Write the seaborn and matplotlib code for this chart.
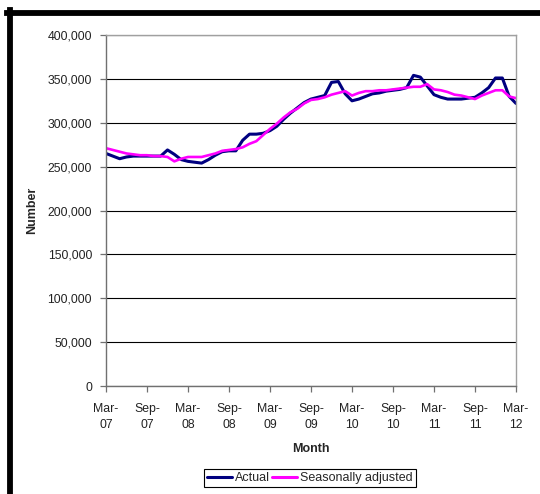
import numpy as np
import pandas as pd
import matplotlib
matplotlib.use("Agg")
import matplotlib.pyplot as plt
from matplotlib.lines import Line2D
from matplotlib.ticker import FuncFormatter
import seaborn as sns

# Monthly series, Mar-07 .. Mar-12 (thousands)
actual = [265, 262, 259, 261, 262, 262, 262, 262, 262, 269,
          264, 258, 256, 255, 254, 258, 263, 267, 268, 268,
          280, 287, 287, 288, 291, 296, 304, 311, 317, 323,
          327, 329, 331, 346, 347, 333, 325, 327, 330, 333,
          334, 336, 337, 338, 340, 354, 352, 342, 332, 329,
          327, 327, 327, 328, 329, 334, 340, 351, 351, 330,
          322]
seasonally_adjusted = [271, 269, 267, 265, 264, 263, 263, 262, 262, 261,
                       256, 259, 261, 261, 261, 263, 265, 268, 269, 270,
                       272, 276, 279, 286, 293, 299, 306, 312, 316, 322,
                       326, 327, 329, 332, 334, 336, 331, 334, 336, 336,
                       337, 337, 338, 339, 340, 341, 341, 344, 338, 337,
                       335, 332, 331, 329, 327, 331, 334, 337, 337, 330,
                       328]
series_names = ["Actual", "Seasonally adjusted"]
series_colors = ["#000080", "#FF00FF"]
tick_labels = ["Mar-\n07", "Sep-\n07", "Mar-\n08", "Sep-\n08", "Mar-\n09", "Sep-\n09",
               "Mar-\n10", "Sep-\n10", "Mar-\n11", "Sep-\n11", "Mar-\n12"]
y_ticks = [0, 50000, 100000, 150000, 200000, 250000, 300000, 350000, 400000]

months = np.arange(len(actual))
df = pd.concat([
    pd.DataFrame({"month": months, "value": np.array(actual) * 1000, "series": series_names[0]}),
    pd.DataFrame({"month": months, "value": np.array(seasonally_adjusted) * 1000, "series": series_names[1]}),
])

sns.set_style("white")
plt.rcParams["font.family"] = ["Liberation Sans", "DejaVu Sans"]

fig = plt.figure(figsize=(5.4, 4.94), dpi=100)
ax = fig.add_axes([106 / 540, 1 - 386 / 494, 410 / 540, 351 / 494])

sns.lineplot(data=df, x="month", y="value", hue="series", palette=series_colors,
             hue_order=series_names, ax=ax, legend=False, sort=False)
for line, lw in zip(ax.get_lines(), [2.2, 1.9]):
    line.set_linewidth(lw)
    line.set_solid_joinstyle("round")

ax.set_xlim(0, len(actual) - 1)
ax.set_ylim(y_ticks[0], y_ticks[-1])
ax.set_xticks(months[::6])
ax.set_xticklabels(tick_labels, linespacing=1.45)
ax.set_yticks(y_ticks)
ax.yaxis.set_major_formatter(FuncFormatter(lambda v, p: f"{int(v):,}"))

ax.set_axisbelow(True)
ax.grid(axis="y", color="black", linewidth=0.8)
ax.grid(axis="x", visible=False)

for side in ["left", "bottom"]:
    ax.spines[side].set_color("#707070")
    ax.spines[side].set_linewidth(1.0)
for side in ["top", "right"]:
    ax.spines[side].set_color("#a0a0a0")
    ax.spines[side].set_linewidth(1.0)
    ax.spines[side].set_visible(True)

ax.tick_params(axis="both", direction="out", length=4, width=0.9, color="#707070",
               labelsize=8.8, labelcolor="#222222")
ax.tick_params(axis="y", pad=6, left=True)
ax.tick_params(axis="x", pad=8.5, bottom=True)

ax.set_xlabel("Month", fontsize=9, fontweight="bold", labelpad=8)
ax.set_ylabel("Number", fontsize=9, fontweight="bold", labelpad=7)

handles = [Line2D([], [], color=c, lw=2.2) for c in series_colors]
leg = fig.legend(handles, series_names, loc="center", bbox_to_anchor=(310 / 540, 1 - 478 / 494),
                 ncol=2, fontsize=9, frameon=True, fancybox=False, framealpha=1,
                 edgecolor="black", handlelength=2.0, handletextpad=0.2,
                 columnspacing=0.2, borderpad=0.25, borderaxespad=0)
leg.get_frame().set_linewidth(0.8)

# Heavy outer frame (top and left edges)
fig.add_artist(Line2D([9.5 / 540, 9.5 / 540], [1 - 10.5 / 494, -0.05], color="black",
                      lw=4.2, solid_capstyle="projecting", transform=fig.transFigure))
fig.add_artist(Line2D([7 / 540, 1.05], [1 - 13 / 494, 1 - 13 / 494], color="black",
                      lw=4.2, solid_capstyle="projecting", transform=fig.transFigure))

fig.savefig("out.png", dpi=100)
